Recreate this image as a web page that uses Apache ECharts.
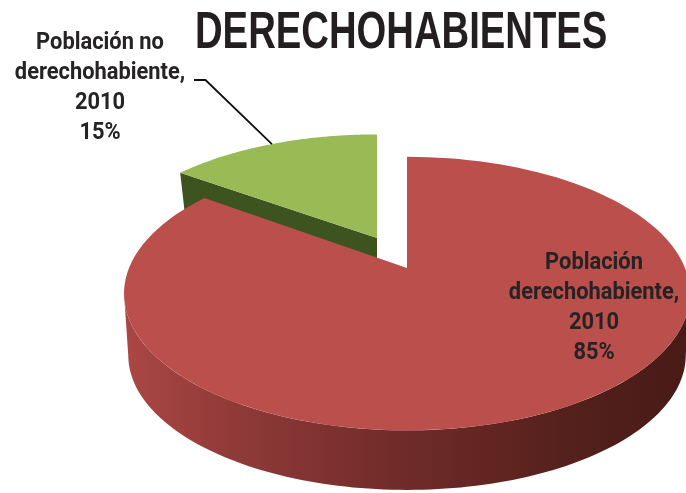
<!DOCTYPE html>
<html>
<head>
<meta charset="utf-8">
<style>html,body{margin:0;padding:0;background:#fff}#c{width:686px;height:493px}</style>
<script src="https://cdn.jsdelivr.net/npm/echarts@6/dist/echarts.min.js"></script>
</head>
<body>
<div id="c"></div>
<script>
const titleText = 'DERECHOHABIENTES';
const categories = ['Población\nderechohabiente,', 'Población no\nderechohabiente,'];
const years = ['2010', '2010'];
const values = [85, 15];

const FONT = '"Liberation Sans",sans-serif';
const LABEL_FONT = 'Roboto,"Liberation Sans",sans-serif';
const TILT = 0.187;
const faces = [
  {ax:407, ay:268, a:278, b:132, dy:62, shrink:0.985, face:'#bb4f4b', z:5},
  {ax:377, ay:238, a:270, b:123, dy:50, shrink:0.97, face:'#99ba55', z:1}
];
const redWall = {type:'linear', x:124, y:0, x2:686, y2:0, global:true, colorStops:[
  {offset:0, color:'#ab4744'}, {offset:0.2, color:'#8f3a38'}, {offset:0.5, color:'#6f2b29'},
  {offset:0.8, color:'#54201b'}, {offset:1, color:'#481b17'}]};
const labelPos = [{x:594, y:308}, {x:100, y:88}];
const textColor = '#252324';

function project(g, thetaDeg, bottom) {
  const t = thetaDeg * Math.PI / 180, u = Math.sin(t), v = -Math.cos(t);
  const w = 1 - TILT * v, s = bottom ? g.shrink : 1;
  return [g.ax + g.a * s * u / w, g.ay + (bottom ? g.dy : 0) + g.b * s * v / w];
}
function arc(g, from, to, bottom) {
  const pts = [];
  for (let i = 0; i <= 120; i++) pts.push(project(g, from + (to - from) * i / 120, bottom));
  return pts;
}
const total = values.reduce((p, c) => p + c, 0);

function renderSlice(params, api) {
  const i = params.dataIndex, g = faces[i];
  let start = 0;
  for (let k = 0; k < i; k++) start += values[k] / total * 360;
  const end = start + api.value(0) / total * 360;
  const children = [];
  const facePts = [[g.ax, g.ay]].concat(arc(g, start, end, false));
  if (i === 0) {
    // outer wall: only the part facing the viewer, between the two silhouette angles
    const edge = Math.acos(-TILT) * 180 / Math.PI;
    const from = Math.max(start, edge), to = Math.min(end, 360 - edge);
    const wall = arc(g, from, to, false).concat(arc(g, to, from, true));
    children.push({type:'polygon', z2:g.z, shape:{points:wall}, style:{fill:redWall}});
  } else {
    const c = project(g, start, false), cb = project(g, start, true);
    children.push({type:'polygon', z2:g.z, style:{fill:'#3e5420'},
      shape:{points:[[g.ax, g.ay], c, cb, [g.ax, g.ay + g.dy]]}});
  }
  children.push({type:'polygon', shape:{points:facePts}, style:{fill:g.face}, z2:g.z + 1});
  const lp = labelPos[i];
  children.push({type:'text', z2:20, x:lp.x, y:lp.y, scaleX:0.95, style:{
    text: categories[i] + '\n' + years[i] + '\n' + Math.round(api.value(0) / total * 100) + '%',
    x:0, y:0, align:'center', verticalAlign:'middle', lineHeight:30,
    fontFamily:LABEL_FONT, fontSize:23, fontWeight:'bold', fill:textColor}});
  if (i === 1) {
    const tip = project(g, (start + end) / 2, false);
    children.push({type:'polyline', z2:19, shape:{points:[[194, 80], [205.5, 80], tip]},
      style:{stroke:'#111', lineWidth:1.8, fill:null}});
  }
  return {type:'group', children};
}

const chart = echarts.init(document.getElementById('c'), null, {renderer:'canvas'});
chart.setOption({
  animation:false,
  backgroundColor:'#fff',
  tooltip:{show:false},
  graphic:[{type:'text', x:195, y:8, scaleX:0.75, z:30, style:{
    text:titleText, fontFamily:FONT, fontSize:51, fontWeight:'bold', fill:'#231f20'}}],
  series:[{type:'custom', coordinateSystem:'none', silent:true, renderItem:renderSlice,
    data:values.map((v, i) => ({name:categories[i], value:[v]}))}]
});
</script>
</body>
</html>
